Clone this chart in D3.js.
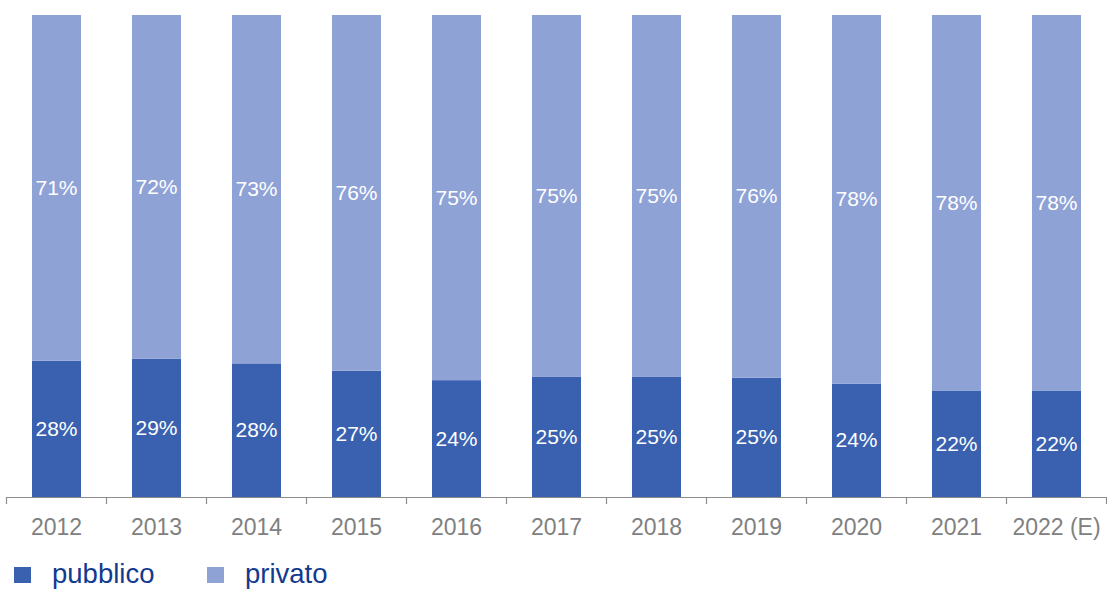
<!DOCTYPE html>
<html>
<head>
<meta charset="utf-8">
<script src="https://cdn.jsdelivr.net/npm/d3@7"></script>
<style>
  body { margin: 0; background: #fff; }
  text { font-family: "Liberation Sans", Arial, sans-serif; }
</style>
</head>
<body>
<script>
// data
var years = ['2012', '2013', '2014', '2015', '2016', '2017', '2018', '2019', '2020', '2021', '2022 (E)'];
var pubblico = [28, 29, 28, 27, 24, 25, 25, 25, 24, 22, 22];
var privato = [71, 72, 73, 76, 75, 75, 75, 76, 78, 78, 78];
var seriesNames = ['pubblico', 'privato'];
var seriesColors = ['#3a61b0', '#8fa2d6'];

var width = 1107,
    height = 589;

var svg = d3.select('body')
  .append('svg')
  .attr('width', width)
  .attr('height', height);

// rows for the stack
var rows = years.map(function(y, i) {
  return { year: y, pubblico: pubblico[i], privato: privato[i] };
});

// bars are normalised to 100% of the height
var stack = d3.stack()
  .keys(seriesNames)
  .offset(d3.stackOffsetExpand);
var layers = stack(rows);

var x = d3.scaleBand()
  .domain(years)
  .range([6.5, 1106.5])
  .paddingInner(0.51)
  .paddingOuter(0.255);

var y = d3.scaleLinear()
  .domain([0, 1])
  .range([497, 15]);

var color = d3.scaleOrdinal().domain(seriesNames).range(seriesColors);

// stacked bars
var groups = svg.selectAll('g.layer')
  .data(layers)
  .enter()
  .append('g')
  .attr('class', 'layer')
  .attr('fill', function(d) { return color(d.key); });

groups.selectAll('rect')
  .data(function(d) { return d; })
  .enter()
  .append('rect')
  .attr('x', function(d) { return x(d.data.year); })
  .attr('y', function(d) { return y(d[1]); })
  .attr('width', x.bandwidth())
  .attr('height', function(d) { return y(d[0]) - y(d[1]); });

// percent labels inside the segments
groups.selectAll('text')
  .data(function(d) {
    return d.map(function(p) { return { p: p, key: d.key }; });
  })
  .enter()
  .append('text')
  .attr('x', function(d) { return x(d.p.data.year) + x.bandwidth() / 2; })
  .attr('y', function(d) { return (y(d.p[0]) + y(d.p[1])) / 2 + 7; })
  .attr('text-anchor', 'middle')
  .attr('fill', '#fff')
  .style('font-size', '21px')
  .text(function(d) { return d.p.data[d.key] + '%'; });

// x axis with ticks between categories
var axis = svg.append('g').attr('class', 'axis');
axis.append('line')
  .attr('x1', 6).attr('x2', width)
  .attr('y1', 497.5).attr('y2', 497.5)
  .attr('stroke', '#8c8c8c')
  .attr('stroke-width', 1.2);

var tickPos = years.map(function(d) { return x(d) - x.step() * x.paddingInner() / 2; });
tickPos.push(x.range()[1]);
axis.selectAll('line.tick')
  .data(tickPos)
  .enter()
  .append('line')
  .attr('class', 'tick')
  .attr('x1', function(d) { return Math.floor(d) + 0.5; })
  .attr('x2', function(d) { return Math.floor(d) + 0.5; })
  .attr('y1', 497)
  .attr('y2', 504)
  .attr('stroke', '#8c8c8c')
  .attr('stroke-width', 1.2);

axis.selectAll('text')
  .data(years)
  .enter()
  .append('text')
  .attr('x', function(d) { return x(d) + x.bandwidth() / 2; })
  .attr('y', 535)
  .attr('text-anchor', 'middle')
  .attr('fill', '#808080')
  .style('font-size', '23px')
  .text(function(d) { return d; });

// legend
var legendX = [14, 207];
var legend = svg.selectAll('g.legend')
  .data(seriesNames)
  .enter()
  .append('g')
  .attr('class', 'legend')
  .attr('transform', function(d, i) { return 'translate(' + legendX[i] + ',0)'; });

legend.append('rect')
  .attr('x', 0)
  .attr('y', 567)
  .attr('width', 17)
  .attr('height', 16)
  .attr('fill', function(d) { return color(d); });

legend.append('text')
  .attr('x', 38)
  .attr('y', 583)
  .attr('fill', '#123a8f')
  .style('font-size', '27.5px')
  .text(function(d) { return d; });
</script>
</body>
</html>
